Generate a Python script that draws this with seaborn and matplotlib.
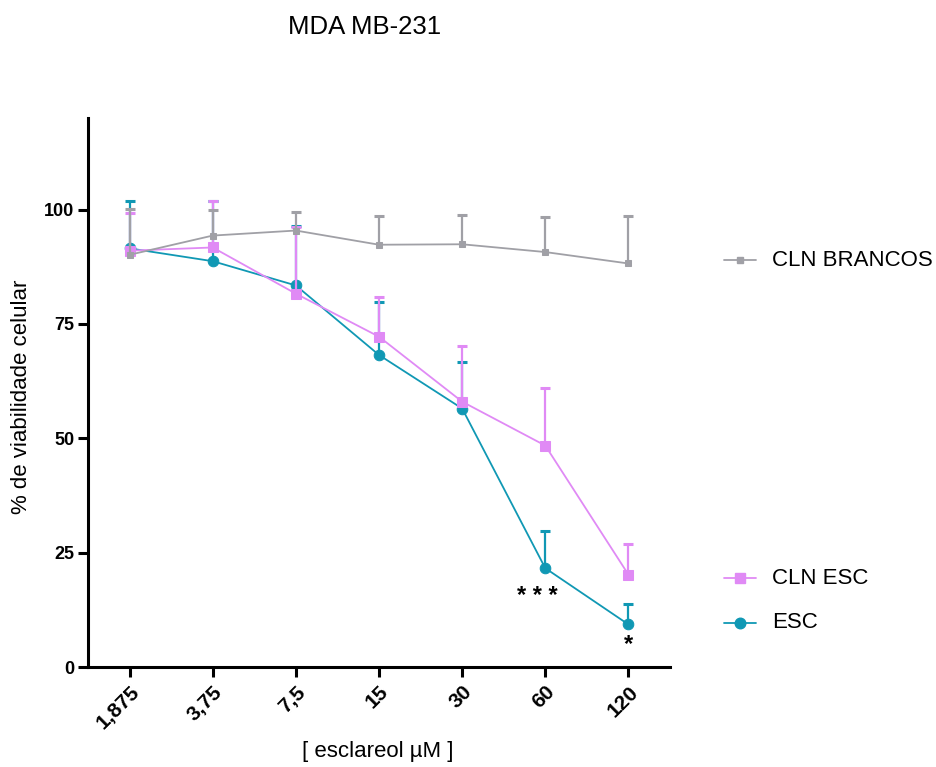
import numpy as np
import pandas as pd
import matplotlib
matplotlib.use("Agg")
import matplotlib.pyplot as plt
from matplotlib.lines import Line2D
import seaborn as sns

# Concentrations of esclareol (µM) and cell viability (% of control, mean and SD)
concentrations = ["1,875", "3,75", "7,5", "15", "30", "60", "120"]

brancos_mean = [90.1, 94.3, 95.4, 92.3, 92.4, 90.7, 88.2]
brancos_sd = [10.1, 5.5, 4.0, 6.3, 6.5, 7.6, 10.4]

cln_esc_mean = [91.0, 91.7, 81.6, 72.2, 58.0, 48.4, 20.2]
cln_esc_sd = [8.2, 10.2, 14.6, 8.6, 12.1, 12.5, 6.6]

esc_mean = [91.5, 88.7, 83.4, 68.2, 56.5, 21.6, 9.3]
esc_sd = [10.4, 13.2, 12.9, 11.6, 10.1, 8.2, 4.5]

series_names = ["ESC", "CLN ESC", "CLN BRANCOS"]
significance = {"60": ("* * *", 15.4, -0.1), "120": ("*", 5.0, 0.0)}

colors = {"CLN BRANCOS": "#a0a0a6", "CLN ESC": "#e08af5", "ESC": "#1098b4"}
markers = {"CLN BRANCOS": "s", "CLN ESC": "s", "ESC": "o"}
msizes = {"CLN BRANCOS": 4.8, "CLN ESC": 7.6, "ESC": 7.6}

means = {"CLN BRANCOS": brancos_mean, "CLN ESC": cln_esc_mean, "ESC": esc_mean}
sds = {"CLN BRANCOS": brancos_sd, "CLN ESC": cln_esc_sd, "ESC": esc_sd}

rows = []
for name in series_names:
    for i, c in enumerate(concentrations):
        rows.append({"serie": name, "pos": i, "conc": c,
                     "viab": means[name][i], "sd": sds[name][i]})
df = pd.DataFrame(rows)

sns.set_style("white")
plt.rcParams["font.family"] = ["Liberation Sans", "DejaVu Sans"]
plt.rcParams["text.color"] = "black"
plt.rcParams["axes.labelcolor"] = "black"

fig = plt.figure(figsize=(9.37, 7.67), dpi=100)
W, H = 937, 767
ax = fig.add_axes([88 / W, 1 - 667 / H, (670 - 88) / W, (667 - 118) / H])

for z, name in enumerate(series_names):
    sub = df[df["serie"] == name]
    col = colors[name]
    # upper-only SD bars
    ax.vlines(sub["pos"], sub["viab"], sub["viab"] + sub["sd"],
              color=col, lw=1.6, zorder=2 + z)
    ax.plot(sub["pos"], sub["viab"] + sub["sd"], ls="none", marker="_",
            ms=7, mew=2.2, color=col, zorder=2 + z)
    sns.lineplot(data=sub, x="pos", y="viab", ax=ax, color=col,
                 marker=markers[name], markersize=msizes[name],
                 markeredgecolor=col, linewidth=1.3, errorbar=None,
                 zorder=3 + z, legend=False)

for conc, (txt, yv, dx) in significance.items():
    i = concentrations.index(conc)
    ax.text(i + dx, yv, txt, ha="center", va="center", fontsize=17,
            fontweight="bold", color="black")

ax.set_xlim(-0.5, 6.5)
ax.set_ylim(0, 120)
ax.set_yticks([0, 25, 50, 75, 100])
ax.set_xticks(range(len(concentrations)))
ax.set_xticklabels(concentrations, rotation=45, ha="right",
                   rotation_mode="anchor")
for lab in ax.get_yticklabels():
    lab.set_fontweight("bold")
    lab.set_fontsize(13)
for lab in ax.get_xticklabels():
    lab.set_fontweight("bold")
    lab.set_fontsize(15)

sns.despine(ax=ax)
for s in ("left", "bottom"):
    ax.spines[s].set_linewidth(2.2)
    ax.spines[s].set_color("black")
ax.tick_params(axis="both", direction="out", length=7, width=2.2,
               colors="black", pad=3, left=True, bottom=True)
ax.tick_params(axis="x", pad=4)

ax.set_xlabel("[ esclareol µM ]", fontsize=16)
ax.xaxis.set_label_coords(0.497, (667 - 752) / 549)
ax.xaxis.label.set_va("center")
ax.set_ylabel("% de viabilidade celular", fontsize=16)
ax.yaxis.set_label_coords((22 - 88) / 582, (667 - 397) / 549)
ax.yaxis.label.set_va("center")
fig.text(365 / W, 1 - 27 / H, "MDA MB-231", fontsize=18.5,
         ha="center", va="center")

# Legend entries placed beside the end of each curve
leg_rows = [("CLN BRANCOS", 260), ("CLN ESC", 578), ("ESC", 623)]
for name, ypx in leg_rows:
    yf = 1 - ypx / H
    fig.add_artist(Line2D([724 / W, 756 / W], [yf, yf], color=colors[name],
                          lw=1.3, transform=fig.transFigure))
    fig.add_artist(Line2D([740 / W], [yf], color=colors[name],
                          marker=markers[name], ms=msizes[name],
                          ls="none", transform=fig.transFigure))
    fig.text(772 / W, yf, name, fontsize=16, ha="left", va="center")

fig.savefig("out.png", dpi=100)
